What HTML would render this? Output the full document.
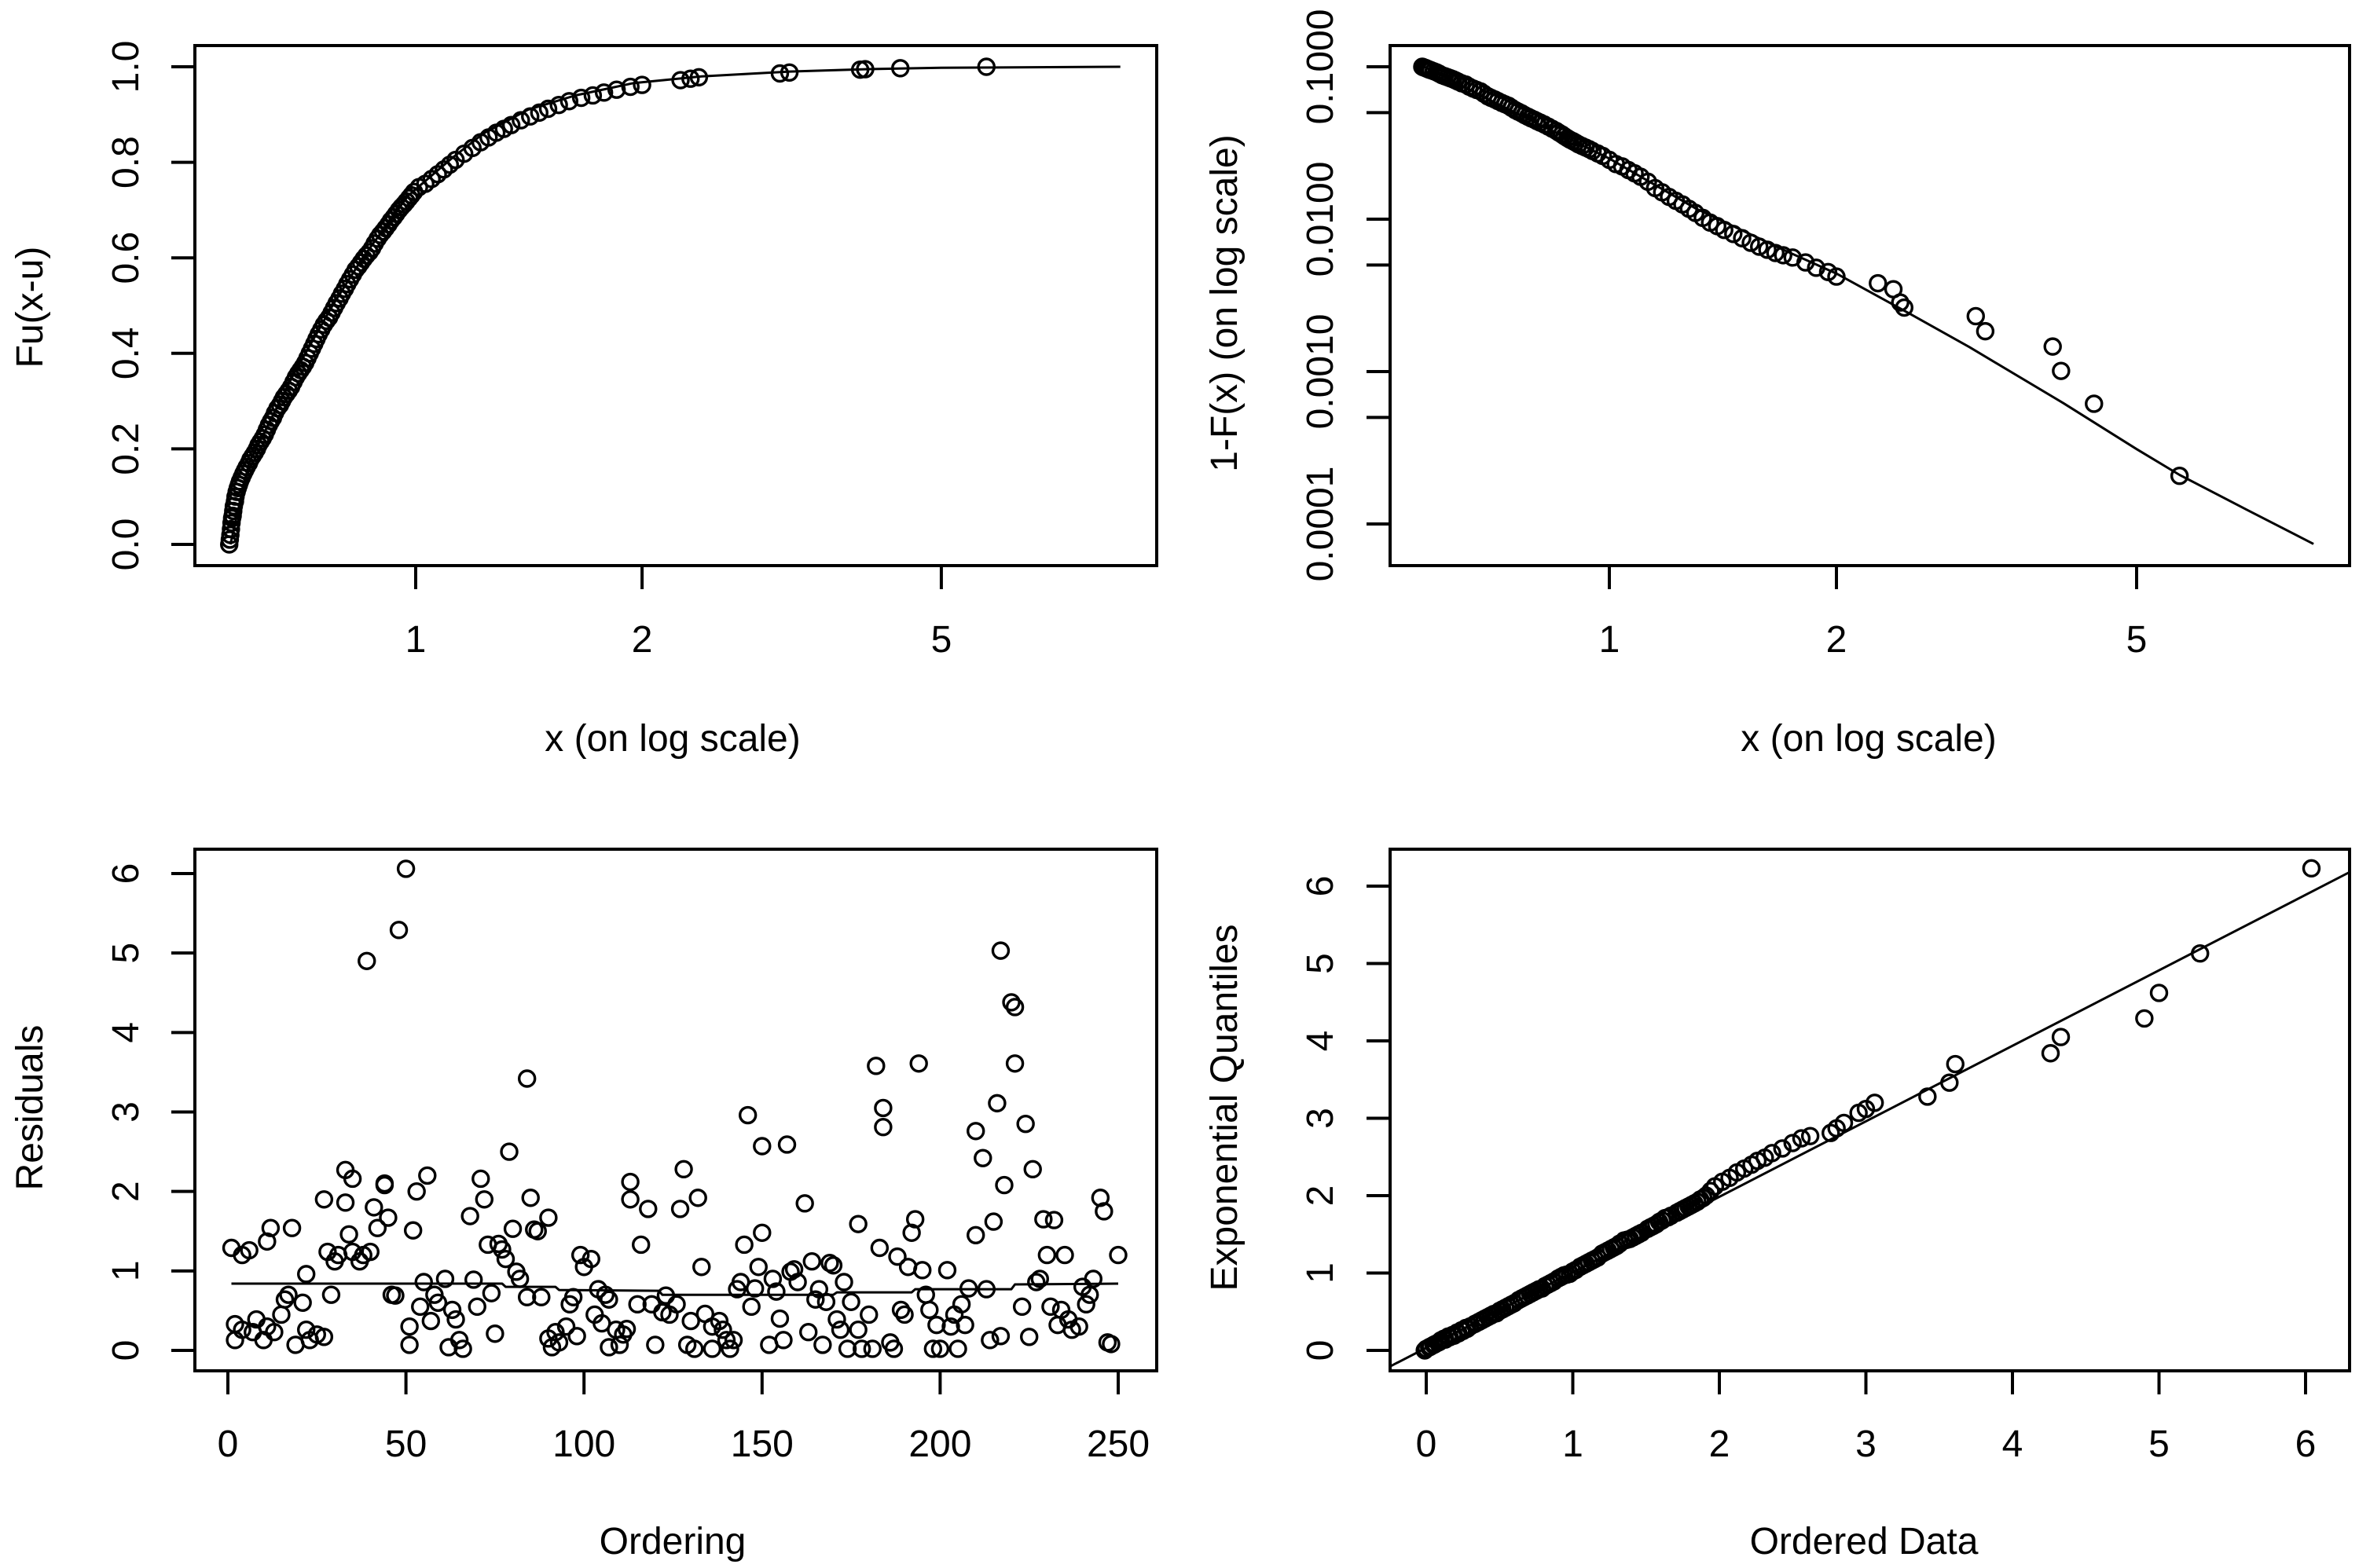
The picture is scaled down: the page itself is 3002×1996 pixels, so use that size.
<!DOCTYPE html>
<html><head><meta charset="utf-8"><style>
html,body{margin:0;padding:0;background:#fff;}
svg{display:block;}
text{font-family:"Liberation Sans",Arial,sans-serif;fill:#000;}
</style></head><body>
<svg id="fig" xmlns="http://www.w3.org/2000/svg" width="3002" height="1996" viewBox="0 0 3002 1996"></svg>
<script>
// ---------- Data: top-left (Fu(x-u) vs x, log scale) ----------
const tlX = [0.565,0.567,0.569,0.572,0.575,0.578,0.582,0.587,0.593,0.600,0.607,0.615,0.622,0.630,0.638,0.646,0.655,0.664,0.673,0.683,0.693,0.703,0.713,0.723,0.733,0.743,0.755,0.767,0.779,0.792,0.805,0.818,0.832,0.846,0.860,0.875,0.890,0.905,0.920,0.935,0.950,0.965,0.980,0.995,1.010,1.030,1.050,1.070,1.090,1.110,1.130,1.160,1.190,1.220,1.250,1.280,1.310,1.340,1.380,1.420,1.460,1.500,1.550,1.600,1.660,1.720,1.780,1.850,1.930,2.000,2.250,2.320,2.380,3.050,3.140,3.900,3.960,4.410,5.740,
 0.566,0.568,0.570,0.571,0.573,0.576,0.580,0.584,0.590,0.596,0.603,0.611,0.618,0.626,0.634,0.642,0.650,0.660,0.668,0.678,0.688,0.698,0.708,0.718,0.728,0.738,0.749,0.761,0.773,0.785,0.798,0.811,0.825,0.839,0.853,0.868,0.882,0.897,0.912,0.927,0.942,0.957,0.972,0.987];
const tlF = [0.000,0.020,0.045,0.070,0.090,0.110,0.125,0.140,0.155,0.170,0.185,0.200,0.215,0.230,0.250,0.265,0.285,0.300,0.315,0.330,0.350,0.365,0.380,0.400,0.420,0.440,0.460,0.475,0.495,0.515,0.535,0.555,0.575,0.590,0.605,0.620,0.640,0.655,0.670,0.685,0.700,0.712,0.725,0.738,0.748,0.755,0.765,0.775,0.785,0.795,0.805,0.818,0.830,0.842,0.852,0.862,0.870,0.878,0.888,0.896,0.904,0.912,0.920,0.928,0.935,0.940,0.946,0.952,0.958,0.962,0.972,0.975,0.978,0.986,0.988,0.994,0.995,0.997,1.000,
 0.010,0.032,0.055,0.060,0.080,0.100,0.118,0.132,0.148,0.162,0.178,0.192,0.208,0.222,0.240,0.258,0.275,0.292,0.308,0.322,0.340,0.358,0.372,0.390,0.410,0.430,0.450,0.468,0.485,0.505,0.525,0.545,0.565,0.582,0.598,0.612,0.630,0.648,0.662,0.678,0.692,0.706,0.718,0.731];
const tlLineX = [0.567,0.600,0.690,0.775,0.850,0.977,1.120,1.230,1.410,1.630,1.950,2.400,3.140,4.000,5.000,8.650];
const tlLineF = [0.000,0.170,0.360,0.500,0.600,0.730,0.810,0.860,0.910,0.940,0.966,0.980,0.990,0.995,0.998,1.000];
const tlXTicks = [1,2,5];
const tlXTickLabels = ["1","2","5"];
const tlYTicks = [0,0.2,0.4,0.6,0.8,1.0];
const tlYTickLabels = ["0.0","0.2","0.4","0.6","0.8","1.0"];

// ---------- Data: top-right (1-F(x) vs x, log-log) ----------
const trX = [0.565,0.570,0.575,0.580,0.590,0.600,0.610,0.620,0.630,0.645,0.660,0.675,0.690,0.705,0.720,0.735,0.750,0.765,0.780,0.795,0.810,0.830,0.850,0.865,0.880,0.895,0.910,0.930,0.950,0.965,0.980,1.000,1.020,1.040,1.060,1.080,1.100,1.125,1.150,1.175,1.200,1.225,1.250,1.275,1.300,1.330,1.360,1.390,1.420,1.460,1.500,1.540,1.580,1.620,1.660,1.700,1.750,1.820,1.880,1.950,2.000,2.270,2.380,2.430,2.460,3.060,3.150,3.870,3.970,4.390,5.700,
 0.567,0.572,0.577,0.585,0.595,0.605,0.615,0.625,0.637,0.652,0.667,0.682,0.697,0.712,0.727,0.742,0.757,0.772,0.787,0.802,0.820,0.840,0.857,0.872,0.887,0.902,0.920,0.940];
const trP = [0.1000,0.0985,0.0965,0.0950,0.0920,0.0880,0.0855,0.0830,0.0800,0.0765,0.0720,0.0690,0.0640,0.0610,0.0580,0.0555,0.0520,0.0495,0.0470,0.0450,0.0430,0.0405,0.0380,0.0360,0.0340,0.0325,0.0310,0.0295,0.0280,0.0270,0.0260,0.0245,0.0230,0.0222,0.0210,0.0200,0.0190,0.0176,0.0160,0.0150,0.0140,0.0132,0.0125,0.0117,0.0110,0.0102,0.0095,0.0090,0.0085,0.0080,0.0075,0.0070,0.0066,0.0063,0.0060,0.0058,0.0056,0.0052,0.0048,0.0045,0.0042,0.0038,0.00347,0.00284,0.00263,0.00231,0.00184,0.00146,0.00101,0.000615,0.000207,
 0.0992,0.0975,0.0958,0.0935,0.0900,0.0868,0.0842,0.0815,0.0780,0.0740,0.0705,0.0665,0.0625,0.0595,0.0568,0.0538,0.0508,0.0482,0.0460,0.0440,0.0418,0.0392,0.0370,0.0350,0.0332,0.0318,0.0302,0.0288];
const trLineX = [0.563,0.750,1.000,1.300,1.700,2.000,2.500,3.000,4.000,5.000,5.700,7.000,8.580];
const trLineP = [0.1024,0.0500,0.0250,0.0118,0.0063,0.0044,0.0024,0.00145,0.00062,0.00031,0.00021,0.000124,0.000074];
const trXTicks = [1,2,5];
const trXTickLabels = ["1","2","5"];
const trYTicks = [0.0001,0.0005,0.001,0.005,0.01,0.05,0.1];
const trYLabelTicks = [0.0001,0.001,0.01,0.1];
const trYTickLabels = ["0.0001","0.0010","0.0100","0.1000"];

// ---------- Data: bottom-left (Residuals vs Ordering) ----------
const blOrder = [1,2,2,4,4,6,7,8,10,11,11,12,13,15,16,17,18,19,21,22,22,23,25,27,27,28,29,30,31,33,33,34,35,35,37,38,39,40,41,42,44,44,45,46,47,48,50,51,51,52,53,54,55,56,57,58,59,61,62,63,64,65,66,68,69,70,71,72,73,74,75,76,77,78,79,80,81,82,84,84,85,86,87,88,90,90,91,92,93,95,96,97,98,99,100,102,103,104,105,106,107,107,109,110,111,112,113,113,115,116,118,119,120,122,123,124,126,127,128,129,130,131,132,133,134,136,136,138,139,140,141,142,143,144,145,146,147,148,149,150,150,152,153,154,155,156,157,158,159,160,162,163,164,165,166,167,168,169,170,171,172,173,174,175,177,177,178,180,181,182,183,184,184,186,187,188,189,190,191,192,193,194,195,196,197,198,199,200,202,203,204,205,206,207,208,210,210,212,213,214,215,216,217,217,218,220,221,221,223,224,225,226,227,228,229,230,231,232,233,234,235,236,237,239,240,241,242,243,245,246,247,248,250];
const blResid = [1.29,0.13,0.33,0.26,1.20,1.26,0.23,0.39,0.13,1.37,0.30,1.54,0.23,0.45,0.64,0.70,1.54,0.07,0.60,0.96,0.26,0.13,0.20,1.90,0.17,1.24,0.70,1.12,1.20,1.86,2.27,1.46,1.24,2.16,1.12,1.20,4.90,1.24,1.80,1.54,2.08,2.10,1.67,0.70,0.69,5.29,6.06,0.07,0.30,1.51,2.00,0.55,0.86,2.20,0.37,0.70,0.60,0.90,0.04,0.51,0.39,0.13,0.02,1.69,0.89,0.55,2.16,1.90,1.33,0.72,0.21,1.34,1.27,1.15,2.50,1.53,0.99,0.90,0.67,3.42,1.92,1.52,1.50,0.67,1.67,0.15,0.04,0.23,0.10,0.30,0.58,0.67,0.18,1.20,1.05,1.15,0.45,0.77,0.34,0.70,0.04,0.64,0.26,0.07,0.20,0.27,1.90,2.12,0.58,1.33,1.78,0.58,0.07,0.48,0.69,0.45,0.58,1.78,2.28,0.07,0.37,0.02,1.92,1.05,0.46,0.30,0.02,0.37,0.26,0.13,0.02,0.13,0.77,0.86,1.33,2.96,0.55,0.78,1.05,1.48,2.57,0.07,0.90,0.74,0.40,0.13,2.59,0.99,1.02,0.86,1.85,0.23,1.12,0.64,0.77,0.07,0.61,1.10,1.07,0.39,0.26,0.86,0.02,0.61,1.59,0.26,0.02,0.45,0.02,3.58,1.29,3.05,2.81,0.10,0.02,1.18,0.51,0.45,1.05,1.48,1.65,3.61,1.01,0.70,0.51,0.02,0.32,0.02,1.01,0.30,0.45,0.02,0.58,0.32,0.78,2.76,1.45,2.42,0.77,0.13,1.62,3.11,0.18,5.03,2.08,4.38,4.32,3.61,0.55,2.85,0.17,2.28,0.86,0.90,1.65,1.20,0.55,1.64,0.32,0.51,1.20,0.39,0.26,0.30,0.80,0.58,0.70,0.90,1.92,1.75,0.10,0.08,1.20];
const blSmoothX = [1,77,78,92,93,121,122,170,171,192,193,220,221,250];
const blSmoothY = [0.84,0.84,0.80,0.80,0.76,0.75,0.70,0.70,0.73,0.73,0.77,0.77,0.83,0.84];
const blXTicks = [0,50,100,150,200,250];
const blXTickLabels = ["0","50","100","150","200","250"];
const blYTicks = [0,1,2,3,4,5,6];
const blYTickLabels = ["0","1","2","3","4","5","6"];

// ---------- Data: bottom-right (QQ plot) ----------
const brData = [-0.01,0.02,0.05,0.08,0.10,0.12,0.15,0.18,0.21,0.24,0.27,0.30,0.33,0.36,0.40,0.44,0.48,0.52,0.56,0.60,0.63,0.67,0.71,0.75,0.79,0.83,0.87,0.90,0.94,0.98,1.02,1.05,1.09,1.13,1.17,1.20,1.24,1.28,1.32,1.35,1.39,1.43,1.47,1.51,1.55,1.59,1.63,1.67,1.71,1.75,1.79,1.83,1.87,1.91,1.94,1.97,2.02,2.07,2.12,2.17,2.22,2.26,2.31,2.36,2.43,2.50,2.56,2.62,2.76,2.80,2.85,2.95,3.00,3.06,3.42,3.57,3.61,4.26,4.33,4.90,5.00,5.28,6.04,
 0.00,0.03,0.06,0.09,0.13,0.16,0.19,0.22,0.25,0.28,0.34,0.38,0.42,0.46,0.50,0.54,0.58,0.65,0.69,0.73,0.77,0.81,0.85,0.92,0.96,1.00,1.07,1.11,1.15,1.22,1.26,1.30,1.37,1.41,1.45,1.53,1.57,1.61,1.65,1.73,1.77,1.81,1.85,1.89];
const brQuant = [0.00,0.04,0.07,0.10,0.13,0.15,0.18,0.20,0.23,0.26,0.29,0.31,0.34,0.37,0.41,0.45,0.48,0.53,0.57,0.61,0.65,0.69,0.73,0.77,0.80,0.85,0.89,0.93,0.97,0.99,1.04,1.08,1.12,1.16,1.20,1.25,1.29,1.33,1.38,1.42,1.44,1.48,1.52,1.57,1.61,1.66,1.71,1.74,1.78,1.82,1.86,1.90,1.95,2.00,2.06,2.12,2.18,2.23,2.30,2.35,2.40,2.45,2.49,2.55,2.61,2.68,2.74,2.77,2.81,2.87,2.94,3.07,3.12,3.20,3.28,3.46,3.70,3.84,4.05,4.29,4.62,5.13,6.23,
 0.02,0.05,0.08,0.11,0.14,0.17,0.19,0.22,0.25,0.28,0.35,0.39,0.43,0.47,0.51,0.55,0.59,0.67,0.71,0.75,0.79,0.83,0.87,0.95,0.98,1.02,1.10,1.14,1.18,1.27,1.31,1.35,1.43,1.46,1.50,1.59,1.63,1.68,1.72,1.80,1.84,1.88,1.92,1.97];
const brLineX = [-0.25,6.30];
const brLineY = [-0.21,6.18];
const brXTicks = [0,1,2,3,4,5,6];
const brXTickLabels = ["0","1","2","3","4","5","6"];
const brYTicks = [0,1,2,3,4,5,6];
const brYTickLabels = ["0","1","2","3","4","5","6"];

// ---------- Drawing ----------
const NS = "http://www.w3.org/2000/svg";
const svg = document.getElementById("fig");
const FS = 48;
function mk(tag, attrs, parent){
  const e = document.createElementNS(NS, tag);
  for (const k in attrs) e.setAttribute(k, attrs[k]);
  (parent || svg).appendChild(e);
  return e;
}
function linear(d0,d1,p0,p1){ return v => p0 + (v-d0)*(p1-p0)/(d1-d0); }
function logScale(d0,d1,p0,p1){ const a=Math.log10(d0), b=Math.log10(d1); return v => p0 + (Math.log10(v)-a)*(p1-p0)/(b-a); }

function panel(cfg){
  const g = mk("g", {});
  
  
  const box = mk("rect", {x:cfg.bx0, y:cfg.by0, width:cfg.bx1-cfg.bx0, height:cfg.by1-cfg.by0, fill:"none", stroke:"#000", "stroke-width":4}, g);
  
  
  const xa = mk("g", {}, g);
  
  
  cfg.xTicks.forEach((t,i)=>{
    const x = cfg.sx(t);
    const tk = mk("line", {x1:x, x2:x, y1:cfg.by1, y2:cfg.by1+30, stroke:"#000", "stroke-width":4}, xa);
    
    
    const lb = mk("text", {x:x, y:cfg.xLabelY, "text-anchor":"middle", "font-size":FS}, xa);
    
    
    lb.textContent = cfg.xTickLabels[i];
  });
  const xtitle = mk("text", {x:cfg.xTitleX, y:cfg.xTitleY, "text-anchor":"middle", "font-size":FS}, g);
  
  
  xtitle.textContent = cfg.xTitle;
  const ya = mk("g", {}, g);
  
  
  cfg.yTicks.forEach(t=>{
    const y = cfg.sy(t);
    const tk = mk("line", {x1:cfg.bx0-30, x2:cfg.bx0, y1:y, y2:y, stroke:"#000", "stroke-width":4}, ya);
    
    
  });
  cfg.yLabelTicks.forEach((t,i)=>{
    const y = cfg.sy(t);
    const lb = mk("text", {x:0, y:0, "text-anchor":"middle", "font-size":FS, transform:`translate(${cfg.yLabelX},${y}) rotate(-90)`}, ya);
    
    
    lb.textContent = cfg.yTickLabels[i];
  });
  const ytitle = mk("text", {x:0, y:0, "text-anchor":"middle", "font-size":FS, transform:`translate(${cfg.yTitleX},${cfg.yTitleY}) rotate(-90)`}, g);
  
  
  ytitle.textContent = cfg.yTitle;
  return g;
}
function points(g, xs, ys, sx, sy, name){
  const pg = mk("g", {}, g);
  
  
  xs.forEach((v,i)=>{
    const c = mk("circle", {cx:sx(v), cy:sy(ys[i]), r:10, fill:"none", stroke:"#000", "stroke-width":3.4}, pg);
    
    
  });
}
function line(g, xs, ys, sx, sy, name, clip){
  const d = xs.map((v,i)=> (i?"L":"M")+sx(v).toFixed(1)+","+sy(ys[i]).toFixed(1)).join(" ");
  const p = mk("path", {d:d, fill:"none", stroke:"#000", "stroke-width":3, "stroke-linejoin":"round"}, g);
  if (clip) p.setAttribute("clip-path", clip);
  
  
}

const defs = mk("defs", {});
const cp = mk("clipPath", {id:"clipBR"}, defs);
mk("rect", {x:1769, y:1081, width:1221, height:664}, cp);

// Top-left
{
  const sx = logScale(1, 10, 529, 529+957);
  const sy = linear(0, 1, 693, 85);
  const g = panel({name:"fu-cdf-panel", bx0:248, bx1:1472, by0:58, by1:720, sx, sy,
    xTicks:tlXTicks, xTickLabels:tlXTickLabels, xLabelY:830, xTitle:"x (on log scale)", xTitleX:856, xTitleY:956,
    yTicks:tlYTicks, yLabelTicks:tlYTicks, yTickLabels:tlYTickLabels, yLabelX:176, yTitle:"Fu(x-u)", yTitleX:54, yTitleY:391});
  line(g, tlLineX, tlLineF, sx, sy, "fitted-cdf-line");
  points(g, tlX, tlF, sx, sy, "empirical-cdf-points");
}
// Top-right
{
  const sx = logScale(1, 10, 2048, 2048+960);
  const sy = logScale(0.1, 0.0001, 85, 85+3*194);
  const g = panel({name:"tail-prob-panel", bx0:1769, bx1:2990, by0:58, by1:720, sx, sy,
    xTicks:trXTicks, xTickLabels:trXTickLabels, xLabelY:830, xTitle:"x (on log scale)", xTitleX:2378, xTitleY:956,
    yTicks:trYTicks, yLabelTicks:trYLabelTicks, yTickLabels:trYTickLabels, yLabelX:1696, yTitle:"1-F(x) (on log scale)", yTitleX:1574, yTitleY:386});
  line(g, trLineX, trLineP, sx, sy, "fitted-tail-line");
  points(g, trX, trP, sx, sy, "empirical-tail-points");
}
// Bottom-left
{
  const sx = linear(0, 250, 290, 1423);
  const sy = linear(0, 6, 1719, 1112);
  const g = panel({name:"residuals-panel", bx0:248, bx1:1472, by0:1081, by1:1745, sx, sy,
    xTicks:blXTicks, xTickLabels:blXTickLabels, xLabelY:1854, xTitle:"Ordering", xTitleX:856, xTitleY:1978,
    yTicks:blYTicks, yLabelTicks:blYTicks, yTickLabels:blYTickLabels, yLabelX:176, yTitle:"Residuals", yTitleX:54, yTitleY:1410});
  points(g, blOrder, blResid, sx, sy, "residual-points");
  line(g, blSmoothX, blSmoothY, sx, sy, "residual-smooth-line");
}
// Bottom-right
{
  const sx = linear(0, 6, 1815, 2934);
  const sy = linear(0, 6, 1719, 1128);
  const g = panel({name:"qq-panel", bx0:1769, bx1:2990, by0:1081, by1:1745, sx, sy,
    xTicks:brXTicks, xTickLabels:brXTickLabels, xLabelY:1854, xTitle:"Ordered Data", xTitleX:2372, xTitleY:1978,
    yTicks:brYTicks, yLabelTicks:brYTicks, yTickLabels:brYTickLabels, yLabelX:1696, yTitle:"Exponential Quantiles", yTitleX:1574, yTitleY:1410});
  line(g, brLineX, brLineY, sx, sy, "qq-reference-line", "url(#clipBR)");
  points(g, brData, brQuant, sx, sy, "qq-points");
}
</script>
</body></html>
